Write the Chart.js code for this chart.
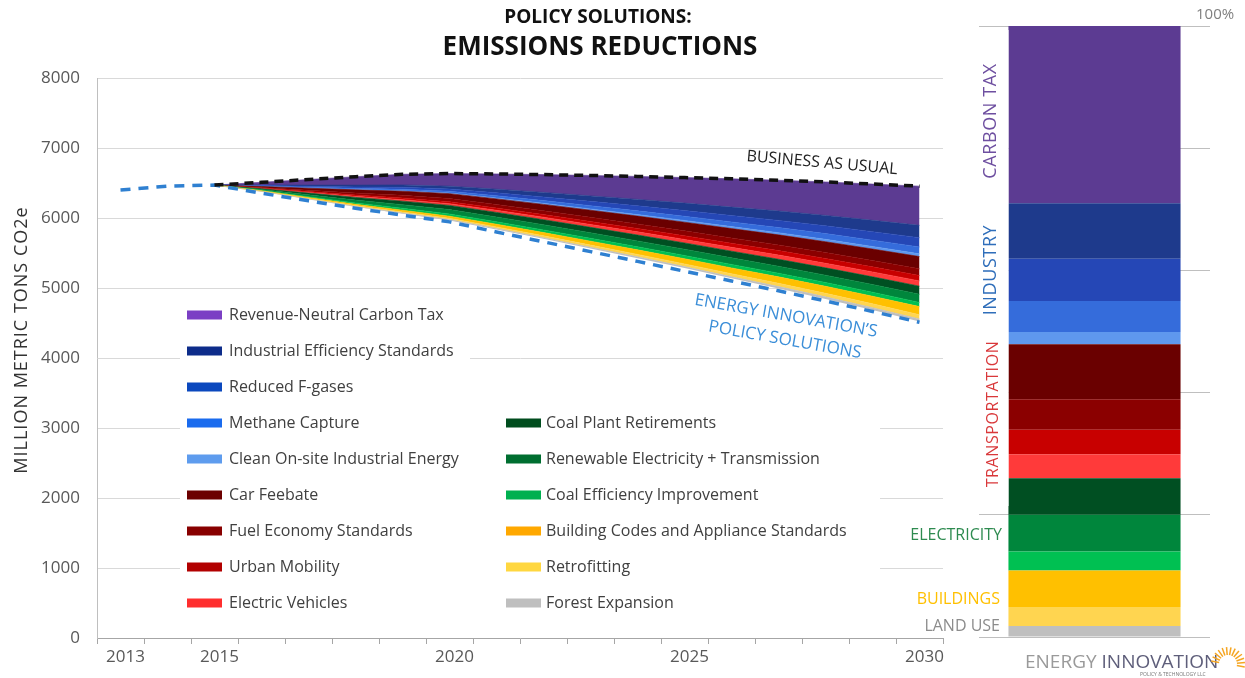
<!DOCTYPE html>
<html><head><meta charset="utf-8">
<script src="https://cdn.jsdelivr.net/npm/chart.js@4"></script>
<style>
html,body{margin:0;padding:0;background:#fff;width:1245px;height:678px;overflow:hidden}
#main{position:absolute;left:0;top:0;width:960px;height:678px}
#bar{position:absolute;left:880px;top:0;width:365px;height:678px}
</style></head><body>
<div id="main"><canvas id="c1"></canvas></div>
<div id="bar"><canvas id="c2"></canvas></div>
<script>
// ---------- DATA ----------
const years = ['2013','2014','2015','2016','2017','2018','2019','2020','2021','2022','2023','2024','2025','2026','2027','2028','2029','2030'];
const shownYears = ['2013','2015','2020','2025','2030'];
const yTicks = [0,1000,2000,3000,4000,5000,6000,7000,8000];

const businessAsUsual = [null,null,6470,6510,6550,6590,6625,6635,6630,6620,6608,6594,6578,6560,6540,6515,6485,6455];
const policySolutions = [6400,6455,6470,6355,6245,6140,6040,5945,5800,5660,5520,5380,5240,5100,4960,4815,4665,4510];

// reductions per policy (Mt CO2e), 2013..2030
const carbonTax            = [null,null,0,38,80,120,152,180,218,254,292,328,365,404,440,478,518,560];
const industrialEfficiency = [null,null,0,8,17,26,34,40,52,65,78,92,106,120,134,148,162,176];
const reducedFgases        = [null,null,0,6,13,20,27,32,42,52,62,72,82,92,102,112,122,133];
const methaneCapture       = [null,null,0,5,10,16,21,25,32,39,46,53,60,67,74,82,90,98];
const cleanOnsite          = [null,null,0,2,4,6,8,10,13,16,19,22,25,28,31,34,36,39];
const carFeebate           = [null,null,0,14,29,45,59,70,80,90,101,112,123,134,144,154,164,174];
const fuelEconomy          = [null,null,0,9,19,29,38,45,50,55,60,65,70,76,81,86,91,97];
const urbanMobility        = [null,null,0,5,12,18,24,28,33,38,43,48,53,58,63,68,72,77];
const electricVehicles     = [null,null,0,4,10,16,21,25,30,35,40,45,50,55,60,65,70,75];
const coalRetirements      = [null,null,0,12,25,38,50,60,66,72,78,84,90,95,100,105,110,116];
const renewables           = [null,null,0,12,26,40,52,62,68,74,79,84,89,94,99,104,110,116];
const coalEfficiency       = [null,null,0,6,13,20,27,32,35,38,41,44,47,50,53,55,58,60];
const buildingCodes        = [null,null,0,6,13,19,25,30,38,47,56,65,74,83,92,100,108,116];
const retrofitting         = [null,null,0,3,7,11,15,18,22,26,30,34,38,42,46,50,55,60];
const forestExpansion      = [null,null,0,2,5,7,10,12,14,16,18,20,22,24,27,30,32,35];

// share of 2030 reductions (%), legend order
const shares2030 = [29.0,9.1,6.9,5.1,2.0,9.0,5.0,4.0,3.9,6.0,6.0,3.1,6.0,3.1,1.8];

// ---------- STYLE ----------
const FONT = "'Open Sans', 'DejaVu Sans', sans-serif";
const series = [
  {label:'Revenue-Neutral Carbon Tax', data:carbonTax, color:'#5C3B92', swatch:'#7B3FC4'},
  {label:'Industrial Efficiency Standards', data:industrialEfficiency, color:'#1E3A8C', swatch:'#0D2C8A'},
  {label:'Reduced F-gases', data:reducedFgases, color:'#2547B6', swatch:'#0B48BE'},
  {label:'Methane Capture', data:methaneCapture, color:'#356CDB', swatch:'#1A6BEE'},
  {label:'Clean On-site Industrial Energy', data:cleanOnsite, color:'#5F98EE', swatch:'#5E9CEE'},
  {label:'Car Feebate', data:carFeebate, color:'#6A0000', swatch:'#6C0000'},
  {label:'Fuel Economy Standards', data:fuelEconomy, color:'#8B0000', swatch:'#880000'},
  {label:'Urban Mobility', data:urbanMobility, color:'#C80000', swatch:'#B20000'},
  {label:'Electric Vehicles', data:electricVehicles, color:'#FF3A3A', swatch:'#FF2E2E'},
  {label:'Coal Plant Retirements', data:coalRetirements, color:'#004F22', swatch:'#004D1E'},
  {label:'Renewable Electricity + Transmission', data:renewables, color:'#00863C', swatch:'#006E30'},
  {label:'Coal Efficiency Improvement', data:coalEfficiency, color:'#00C052', swatch:'#00B050'},
  {label:'Building Codes and Appliance Standards', data:buildingCodes, color:'#FFC000', swatch:'#FFA800'},
  {label:'Retrofitting', data:retrofitting, color:'#FFD550', swatch:'#FFD740'},
  {label:'Forest Expansion', data:forestExpansion, color:'#BFBFBF', swatch:'#BFBFBF'}
];
const stackOrder = series.slice().reverse(); // bottom -> top
const baseLine = businessAsUsual.map((b,i)=> b==null ? null : b - series.reduce((a,s)=>a+(s.data[i]||0),0));

const datasets = [
  {label:'base', data:baseLine, borderColor:'rgba(0,0,0,0)', backgroundColor:'rgba(0,0,0,0)', borderWidth:0, pointRadius:0, fill:false, stack:'s'}
].concat(stackOrder.map(s=>({
  label:s.label, data:s.data, backgroundColor:s.color, borderColor:s.color, borderWidth:0.6,
  pointRadius:0, fill:'-1', stack:'s', tension:0
}))).concat([
  {label:'Business as usual', data:businessAsUsual, borderColor:'#111111', borderWidth:3.5, borderDash:[9,6],
   pointRadius:0, fill:false, stack:'bau', order:-1},
  {label:'Policy solutions', data:policySolutions, borderColor:'#2F80D1', borderWidth:3.5, borderDash:[10,8],
   pointRadius:0, fill:false, stack:'pol', order:-1}
]);

const legendCol1 = [0,1,2,3,4,5,6,7,8];
const legendCol2 = [9,10,11,12,13,14];

const mainDecor = {
  id:'mainDecor',
  beforeDatasetsDraw(chart){
    const ctx = chart.ctx;
    ctx.save();
    ctx.fillStyle = '#fff';
    ctx.fillRect(180, 300, 290, 100);
    ctx.fillRect(180, 405, 700, 215);
    ctx.font = "16px " + FONT;
    ctx.textBaseline = 'middle';
    ctx.textAlign = 'left';
    const rowY = i => 315 + 36*i;
    legendCol1.forEach((si,r)=>{
      const s = series[si], y = rowY(r);
      ctx.fillStyle = s.swatch; ctx.fillRect(187, y-4.5, 35, 9);
      ctx.fillStyle = '#404040'; ctx.fillText(s.label, 229, y);
    });
    legendCol2.forEach((si,r)=>{
      const s = series[si], y = rowY(r+3);
      ctx.fillStyle = s.swatch; ctx.fillRect(506, y-4.5, 35, 9);
      ctx.fillStyle = '#404040'; ctx.fillText(s.label, 546, y);
    });
    ctx.restore();
  },
  afterDraw(chart){
    const ctx = chart.ctx;
    ctx.save();
    ctx.fillStyle = '#111';
    ctx.textAlign = 'center'; ctx.textBaseline = 'middle';
    ctx.font = "bold 19px " + FONT;
    ctx.fillText('POLICY SOLUTIONS:', 598, 18);
    ctx.font = "bold 26px " + FONT;
    ctx.fillText('EMISSIONS REDUCTIONS', 600, 48);
    // y title
    ctx.save();
    ctx.translate(22, 340); ctx.rotate(-Math.PI/2);
    ctx.font = "18px " + FONT; ctx.fillStyle = '#333';
    ctx.letterSpacing = '1px';
    ctx.fillText('MILLION METRIC TONS CO2e', 0, 0);
    ctx.restore();
    // annotations
    ctx.save();
    ctx.translate(822, 163); ctx.rotate(5*Math.PI/180);
    ctx.font = "16px " + FONT; ctx.fillStyle = '#222';
    ctx.fillText('BUSINESS AS USUAL', 0, 0);
    ctx.restore();
    ctx.fillStyle = '#3B8ED8'; ctx.font = "17px " + FONT;
    ctx.save(); ctx.translate(786, 316); ctx.rotate(10*Math.PI/180);
    ctx.fillText('ENERGY INNOVATION\u2019S', 0, 0); ctx.restore();
    ctx.save(); ctx.translate(785, 340); ctx.rotate(10*Math.PI/180);
    ctx.fillText('POLICY SOLUTIONS', 0, 0); ctx.restore();
    ctx.restore();
  }
};

new Chart(document.getElementById('c1'), {
  type:'line',
  data:{labels:years, datasets},
  options:{
    responsive:true, maintainAspectRatio:false, animation:false,
    layout:{padding:{top:78, right:17, left:0, bottom:0}},
    plugins:{legend:{display:false}, tooltip:{enabled:false}, title:{display:false}},
    elements:{line:{tension:0}},
    scales:{
      x:{
        offset:true,
        grid:{offset:true, drawOnChartArea:false, drawTicks:true, tickLength:6, color:'#A6A6A6'},
        border:{display:true, color:'#A6A6A6'},
        ticks:{autoSkip:false, maxRotation:0, labelOffset:5, color:'#595959', font:{family:FONT, size:17},
          callback:function(v){const l=this.getLabelForValue(v); return shownYears.includes(l)?l:'';}},
        afterFit:s=>{s.height=40;}
      },
      y:{
        stacked:true, min:0, max:8000,
        afterBuildTicks:s=>{s.ticks = yTicks.map(v=>({value:v}));},
        grid:{color:'#D9D9D9', drawTicks:false},
        border:{display:true, color:'#BFBFBF'},
        ticks:{padding:17, color:'#595959', font:{family:FONT, size:17}, callback:v=>String(v)},
        afterFit:s=>{s.width=97;}
      }
    }
  },
  plugins:[mainDecor]
});

// ---------- right bar ----------
const barDecor = {
  id:'barDecor',
  afterDraw(chart){
    const ctx = chart.ctx;
    ctx.save();
    ctx.fillStyle = '#fff';
    ctx.fillRect(97, 30, 31.5, 476);
    ctx.textBaseline = 'middle';
    const rot = (t,x,y,c,sz)=>{ctx.save();ctx.translate(x,y);ctx.rotate(-Math.PI/2);ctx.textAlign='center';ctx.fillStyle=c;ctx.font=sz+"px "+FONT;ctx.letterSpacing='0.6px';ctx.fillText(t,0,0);ctx.restore();};
    rot('CARBON TAX', 111, 121, '#6E4FA0', 18);
    rot('INDUSTRY', 111, 270, '#2F6EBA', 18);
    rot('TRANSPORTATION', 113, 414, '#D9383A', 16);
    ctx.textAlign = 'right';
    ctx.font = "16px " + FONT;
    ctx.fillStyle = '#2E8B50'; ctx.fillText('ELECTRICITY', 122, 535);
    ctx.fillStyle = '#FFC000'; ctx.fillText('BUILDINGS', 120, 599);
    ctx.fillStyle = '#8C8C8C'; ctx.fillText('LAND USE', 120, 626);
    ctx.textAlign = 'left';
    ctx.fillStyle = '#7F7F7F'; ctx.font = "15px " + FONT;
    ctx.fillText('100%', 316, 15);
    // logo
    ctx.font = "19px " + FONT;
    ctx.fillStyle = '#9A9A9A';
    ctx.fillText('ENERGY ', 145, 663);
    const w = ctx.measureText('ENERGY ').width;
    ctx.fillStyle = '#5E5E7A';
    ctx.fillText('INNOVATION', 145 + w, 663);
    ctx.font = "5px " + FONT; ctx.fillStyle = '#777';
    ctx.fillText('POLICY & TECHNOLOGY LLC', 260, 675);
    ctx.strokeStyle = '#F5A623'; ctx.lineWidth = 1.5;
    const cx = 348, cy = 664;
    for (let a=-170; a<=10; a+=15){
      const r = a*Math.PI/180;
      ctx.beginPath();
      ctx.moveTo(cx+Math.cos(r)*9, cy+Math.sin(r)*9);
      ctx.lineTo(cx+Math.cos(r)*17, cy+Math.sin(r)*17);
      ctx.stroke();
    }
    ctx.restore();
  }
};

new Chart(document.getElementById('c2'), {
  type:'bar',
  data:{labels:['2030'], datasets: stackOrder.map(s=>({
    label:s.label, data:[shares2030[series.indexOf(s)]], backgroundColor:s.color, borderWidth:0,
    categoryPercentage:1, barPercentage:0.745
  }))},
  options:{
    responsive:true, maintainAspectRatio:false, animation:false,
    layout:{padding:{left:99, right:35, top:26, bottom:41}},
    plugins:{legend:{display:false}, tooltip:{enabled:false}},
    scales:{
      x:{stacked:true, display:false},
      y:{stacked:true, min:0, max:100, ticks:{display:false, stepSize:20},
         grid:{color:'#BFBFBF', drawTicks:false}, border:{display:false},
         afterFit:s=>{s.width=0;}}
    }
  },
  plugins:[barDecor]
});
</script>
</body></html>
